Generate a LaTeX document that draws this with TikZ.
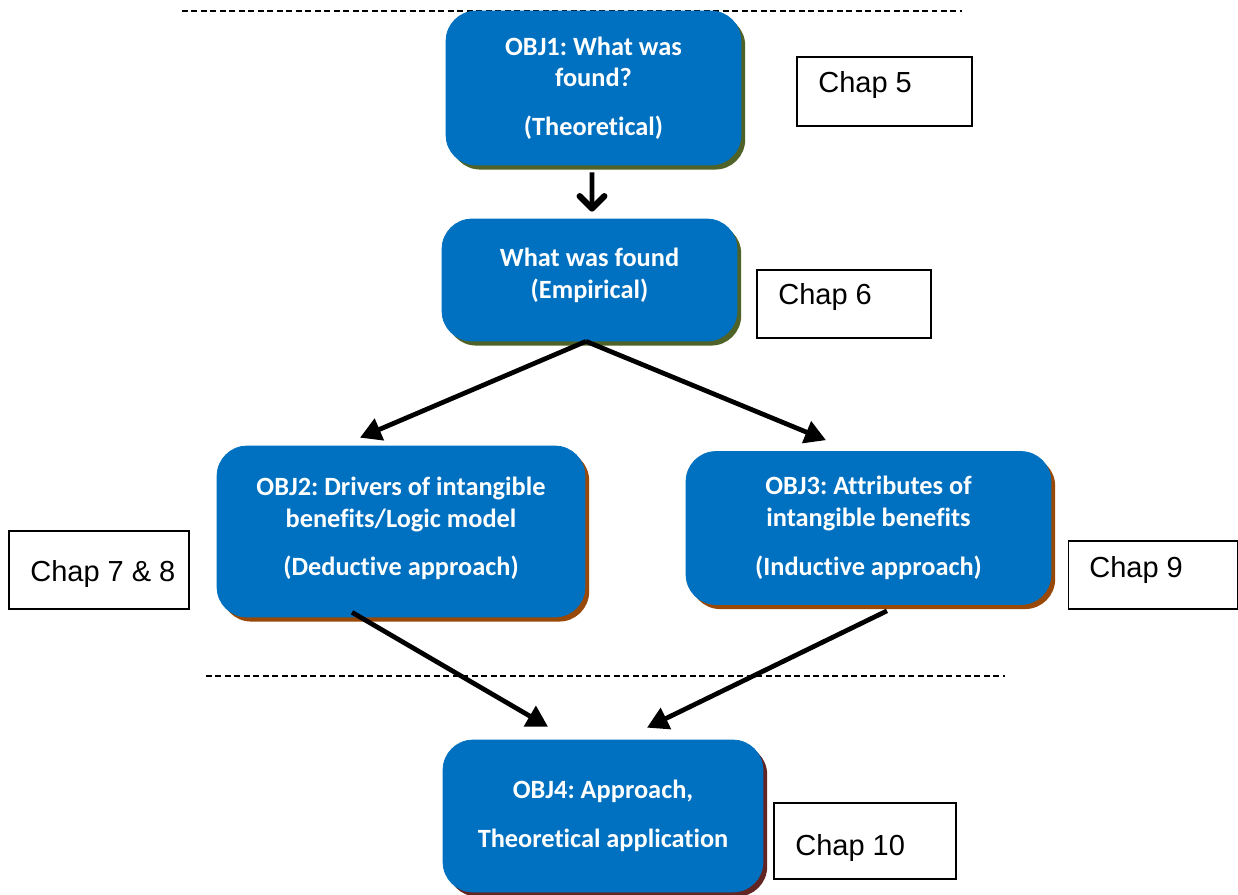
\documentclass[tikz,border=0pt]{standalone}
\usepackage{fontspec}
\setmainfont{Carlito}[Ligatures=NoCommon]
\newfontfamily\chapfont{Liberation Sans}
\frenchspacing
\usetikzlibrary{arrows.meta,shadows,calc}
\definecolor{boxblue}{HTML}{0070C0}
\definecolor{shOlive}{HTML}{4F6228}
\definecolor{shBrown}{HTML}{984807}
\definecolor{shMaroon}{HTML}{632523}
\tikzset{
  objbox/.style={draw=boxblue, fill=boxblue, rounded corners=0.6cm, inner sep=0pt,
    align=center, text=white, font=\fontsize{15}{18.1}\selectfont\bfseries},
  shadowof/.style={drop shadow={shadow xshift=2.4pt, shadow yshift=-2.6pt, fill=#1, opacity=1}},
  chapbox/.style={draw=black, line width=0.6pt, fill=white, inner sep=0pt},
  chaptext/.style={anchor=west, inner sep=0pt, font=\chapfont\fontsize{16.5}{19}\selectfont},
  divider/.style={dashed, dash pattern=on 3.4pt off 2pt, line width=0.6pt},
  flowarrow/.style={line width=2.7pt, -{Triangle[length=12pt,width=13pt]}},
  downarrow/.style={line width=2.7pt, -{Straight Barb[length=7pt,width=14pt,line width=3.6pt,round]}}
}
\begin{document}
\begin{tikzpicture}[x=0.02cm, y=-0.02cm]
\useasboundingbox (0,0) rectangle (1238,894);

% section dividers
\draw[divider] (182,11) -- (962,11);
\draw[divider] (206,676) -- (1005,676);

% objective boxes
\node[objbox, shadowof=shOlive, minimum width=5.9cm, minimum height=3.08cm] (o1) at (593.5,88)
  {OBJ1: What was\\found?\\[9.6pt](Theoretical)};
\node[objbox, shadowof=shOlive, minimum width=5.9cm, minimum height=2.44cm] (em) at (589.5,280)
  {What was found\\(Empirical)\\[-10pt]};
\node[objbox, shadowof=shBrown, minimum width=7.36cm, minimum height=3.42cm] (o2) at (401,531.5)
  {OBJ2: Drivers of intangible\\benefits/Logic model\\[9.6pt](Deductive approach)\\[-12.3pt]};
\node[objbox, shadowof=shBrown, minimum width=7.3cm, minimum height=3.06cm] (o3) at (868.5,528)
  {OBJ3: Attributes of\\intangible benefits\\[9.6pt](Inductive approach)};
\node[objbox, shadowof=shMaroon, minimum width=6.4cm, minimum height=3.04cm] (o4) at (603,816)
  {OBJ4: Approach,\\[9.6pt]Theoretical application};

% chapter labels
\node[chapbox, minimum width=3.5cm, minimum height=1.38cm] (c5) at (884.5,91.5) {};
\node[chaptext] (t5) at (818,85) {Chap 5};
\node[chapbox, minimum width=3.48cm, minimum height=1.36cm] (c6) at (844,304) {};
\node[chaptext] (t6) at (778,297) {Chap 6};
\node[chapbox, minimum width=3.6cm, minimum height=1.56cm] (c78) at (99,570) {};
\node[chaptext] (t78) at (30,574) {Chap 7 \& 8};
\node[chapbox, minimum width=3.38cm, minimum height=1.36cm] (c9) at (1153,575) {};
\node[chaptext] (t9) at (1089,570) {Chap 9};
\node[chapbox, minimum width=3.64cm, minimum height=1.52cm] (c10) at (865,841) {};
\node[chaptext] (t10) at (795,848) {Chap 10};

% connectors
\draw[downarrow] ($(o1.south)+(-1.5,7)$) -- ($(em.north)+(2.5,-7)$);
\draw[flowarrow] ($(em.south)+(-3.5,0)$) -- ($(o2.north)+(-41,-8)$);
\draw[flowarrow] ($(em.south)+(-3.5,0)$) -- ($(o3.north)+(-42.5,-11)$);
\draw[flowarrow] ($(o2.south)+(-49,-5)$) -- ($(o4.north)+(-55,-13)$);
\draw[flowarrow] ($(o3.south)+(18.5,6)$) -- ($(o4.north)+(44,-12)$);
\end{tikzpicture}
\end{document}
